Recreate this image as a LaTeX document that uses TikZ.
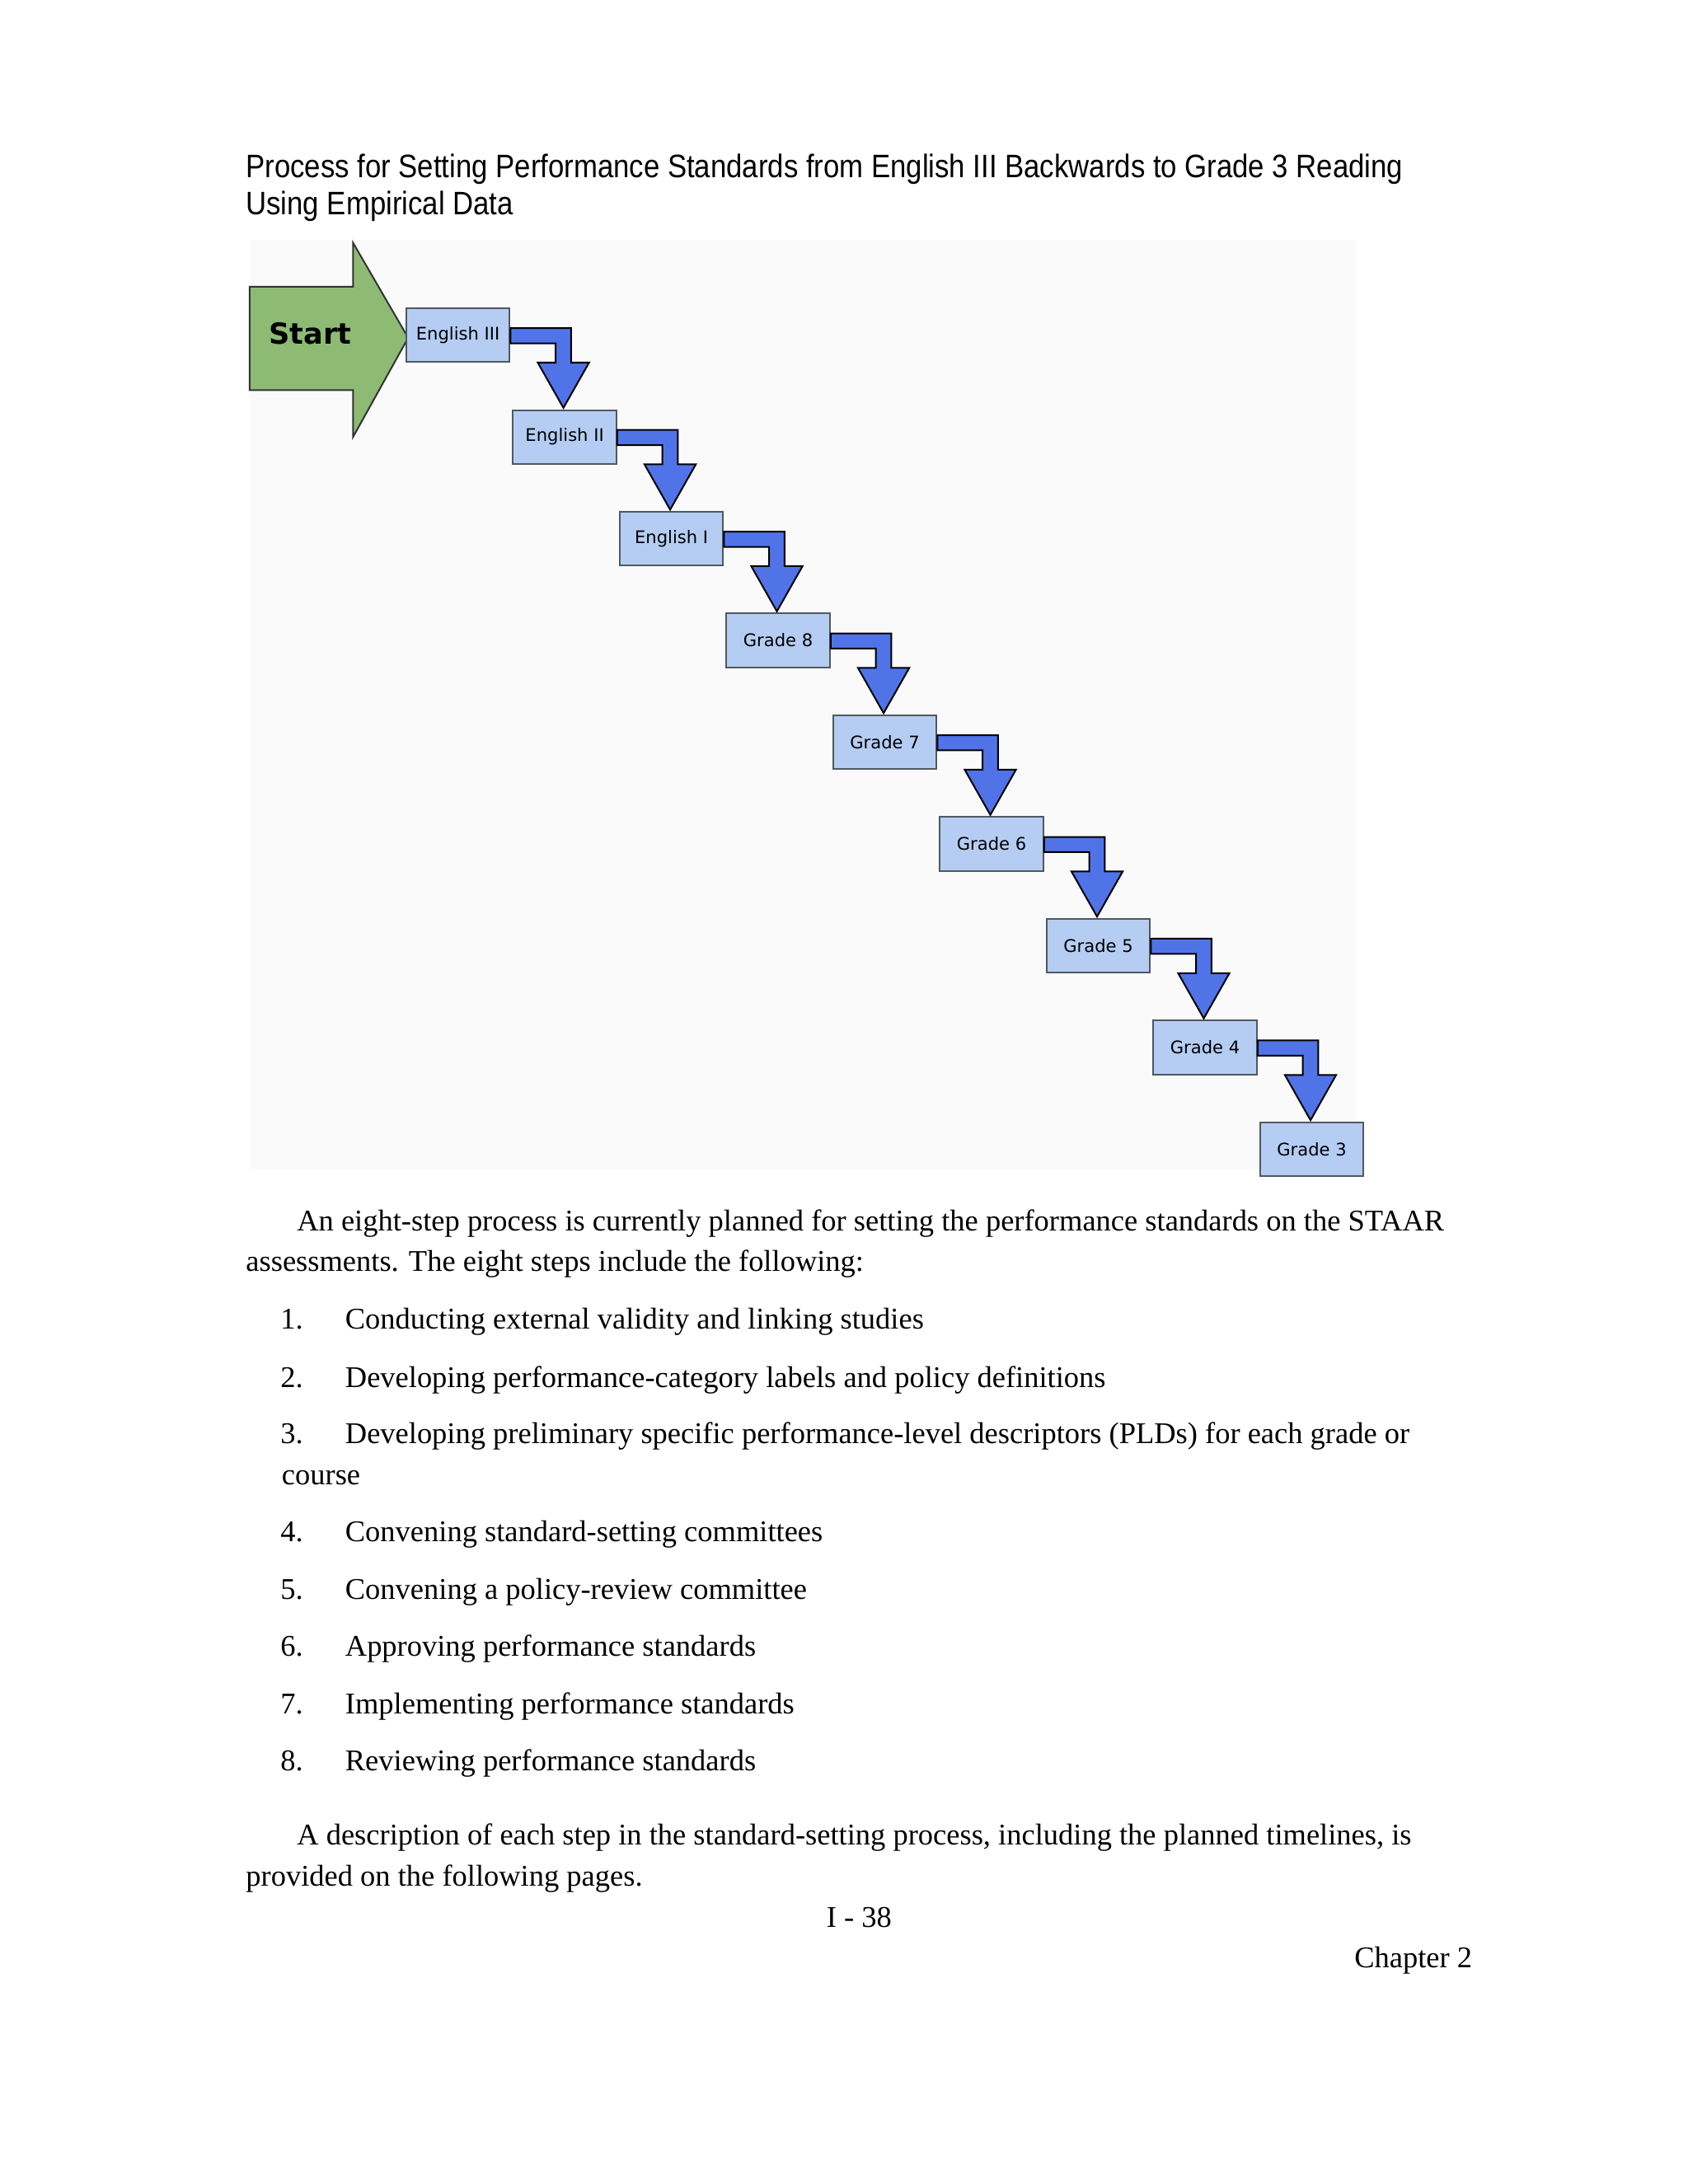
\documentclass[tikz,border=0pt]{standalone}
\usepackage{fontspec}
\setmainfont{Liberation Serif}
\newfontfamily\titlefont[FakeStretch=0.88]{Liberation Sans}
\newfontfamily\boxfont{DejaVu Sans}
\definecolor{boxfill}{HTML}{B5CDF3}
\definecolor{boxline}{HTML}{505860}
\definecolor{arrblue}{HTML}{5074E8}
\definecolor{startgreen}{HTML}{8DBB74}
\tikzset{
 stepbox/.style={draw=boxline,line width=0.6pt,fill=boxfill,minimum width=37.5pt,minimum height=19.5pt,inner sep=0pt,anchor=north west,font=\boxfont\fontsize{6.3}{7}\selectfont},
 elbow/.style={draw=black,line width=0.6pt,fill=arrblue,line join=miter},
 body/.style={anchor=base west,inner sep=0pt,font=\fontsize{10.9}{13}\selectfont},
}
\begin{document}
\begin{tikzpicture}[x=0.5pt,y=-0.5pt]
\useasboundingbox[fill=white] (0,0) rectangle (1224,1584);
\fill[black!2] (181,174) rectangle (984,848);
% title
\node[anchor=base west,inner sep=0pt,font=\titlefont\fontsize{11.8}{14}\selectfont] (t1) at (178,129) {Process for Setting Performance Standards from English III Backwards to Grade 3 Reading};
\node[anchor=base west,inner sep=0pt,font=\titlefont\fontsize{11.8}{14}\selectfont] (t2) at (178,156) {Using Empirical Data};
% start arrow
\draw[draw=black!80,line width=0.6pt,fill=startgreen] (181,208) -- (256,208) -- (256,176) -- (296,245) -- (256,317) -- (256,283) -- (181,283) -- cycle;
\node[font=\boxfont\bfseries\fontsize{10.5}{12}\selectfont,anchor=west] (start) at (188,242) {Start};
% boxes
\def\dx{77.4}\def\dy{73.8}
\foreach \i/\t in {0/English III,1/English II,2/English I,3/Grade 8,4/Grade 7,5/Grade 6,6/Grade 5,7/Grade 4,8/Grade 3}{
  \node[stepbox] (b\i) at ({294+\i*\dx},{223+\i*\dy}) {\t};
}
\foreach \i in {0,...,7}{
  \draw[elbow] ([yshift=-7.5pt]b\i.north east) -- ++(22pt,0) -- ++(0,-12.5pt) -- ++(6.5pt,0) -- ++(-9.3pt,-16.4pt) -- ++(-9.3pt,16.4pt) -- ++(6.5pt,0) -- ++(0,7pt) -- ([yshift=-13pt]b\i.north east) -- cycle;
}
% body text
\node[body] (p1) at (215,893) {An eight-step process is currently planned for setting the performance standards on the STAAR};
\node[body] (p2) at (178,922) {assessments. The eight steps include the following:};
\foreach \n/\y/\t in {1/964/Conducting external validity and linking studies,
 2/1006/Developing performance-category labels and policy definitions,
 3/1047/Developing preliminary specific performance-level descriptors (PLDs) for each grade or,
 4/1118/Convening standard-setting committees,
 5/1160/Convening a policy-review committee,
 6/1201/Approving performance standards,
 7/1243/Implementing performance standards,
 8/1284/Reviewing performance standards}{
  \node[body] (n\n) at (203,\y) {\n.};
  \node[body] (l\n) at (250,\y) {\t};
}
\node[body] (c3) at (204,1077) {course};
\node[body] (q1) at (215,1338) {A description of each step in the standard-setting process, including the planned timelines, is};
\node[body] (q2) at (178,1368) {provided on the following pages.};
\node[anchor=base,inner sep=0pt,font=\fontsize{10.9}{13}\selectfont] (pg) at (623,1398) {I - 38};
\node[anchor=base east,inner sep=0pt,font=\fontsize{10.9}{13}\selectfont] (ch) at (1068,1427) {Chapter 2};
\end{tikzpicture}
\end{document}
